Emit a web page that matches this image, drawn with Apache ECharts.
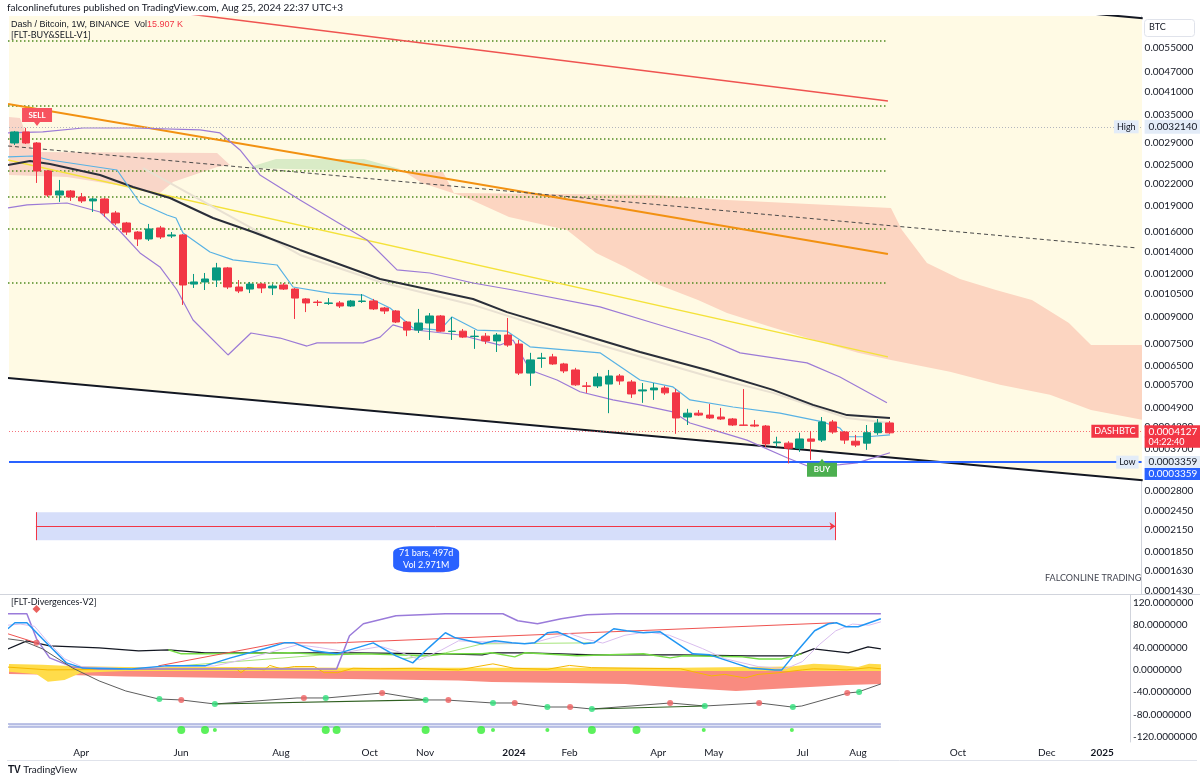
<!DOCTYPE html>
<html>
<head>
<meta charset="utf-8">
<title>Dash / Bitcoin 1W</title>
<script src="https://cdn.jsdelivr.net/npm/echarts@6/dist/echarts.min.js"></script>
<style>
  html, body { margin: 0; padding: 0; background: #ffffff; }
  #chart { width: 1200px; height: 782px; }
</style>
</head>
<body>
<div id="chart"></div>
<script>
// ---- values, prices in BTC ----
const firstWeek = '2023-02-20';
const weekCount = 101;

// bottom time axis labels
const monthTicks = [
  ['2023-04-03', 'Apr'], ['2023-06-05', 'Jun'], ['2023-08-07', 'Aug'], ['2023-10-02', 'Oct'],
  ['2023-11-06', 'Nov'], ['2024-01-01', '2024'], ['2024-02-05', 'Feb'], ['2024-04-01', 'Apr'],
  ['2024-05-06', 'May'], ['2024-07-01', 'Jul'], ['2024-08-05', 'Aug'], ['2024-10-07', 'Oct'],
  ['2024-12-02', 'Dec'], ['2025-01-06', '2025']
];

// right price scale (log)
const priceMin = 0.0001395, priceMax = 0.006821;
const priceTicks = [0.0055, 0.0047, 0.0041, 0.0035, 0.0029, 0.0025, 0.0022, 0.0019, 0.0016, 0.0014,
  0.0012, 0.00105, 0.0009, 0.00075, 0.00065, 0.00057, 0.00049, 0.00043, 0.00037, 0.00028,
  0.000245, 0.000215, 0.000185, 0.000163, 0.000143];
const oscTicks = [120, 80, 40, 0, -40, -80, -120];

const lastPrice = 0.0004127, highPrice = 0.003214, lowPrice = 0.0003359;

// weekly candles [open, close, low, high]
const candles = [
  [0.002902, 0.003126, 0.002863, 0.003147], [0.003126, 0.002902, 0.002882, 0.003214],
  [0.002902, 0.002404, 0.002218, 0.002921], [0.002404, 0.002045, 0.002018, 0.002420],
  [0.002045, 0.002101, 0.001952, 0.002263], [0.002101, 0.002018, 0.001965, 0.002115],
  [0.002018, 0.001965, 0.001938, 0.002073], [0.001965, 0.001991, 0.001824, 0.002004],
  [0.001991, 0.001812, 0.001764, 0.002004], [0.001812, 0.001694, 0.001672, 0.001837],
  [0.001694, 0.001594, 0.001563, 0.001706], [0.001594, 0.001521, 0.001451, 0.001605],
  [0.001521, 0.001627, 0.001501, 0.001683], [0.001638, 0.001542, 0.001521, 0.001661],
  [0.001552, 0.001563, 0.001531, 0.001594], [0.001563, 0.001116, 0.000976, 0.001573],
  [0.001123, 0.001139, 0.001094, 0.001202], [0.001139, 0.001162, 0.001079, 0.001210],
  [0.001154, 0.001252, 0.001101, 0.001295], [0.001252, 0.001101, 0.001086, 0.001260],
  [0.001101, 0.001072, 0.001057, 0.001154], [0.001086, 0.001123, 0.001057, 0.001139],
  [0.001123, 0.001094, 0.001057, 0.001131], [0.001094, 0.001108, 0.001043, 0.001123],
  [0.001116, 0.001086, 0.001079, 0.001131], [0.001086, 0.001022, 0.000888, 0.001094],
  [0.001016, 0.000989, 0.000930, 0.001022], [0.000995, 0.000992, 0.000969, 0.001009],
  [0.000986, 0.000989, 0.000976, 0.001022], [0.000989, 0.000969, 0.000956, 0.001002],
  [0.000969, 0.001002, 0.000963, 0.001009], [0.000999, 0.001002, 0.000989, 0.001050],
  [0.001002, 0.000950, 0.000943, 0.001016], [0.000956, 0.000937, 0.000918, 0.000963],
  [0.000937, 0.000870, 0.000864, 0.000943], [0.000870, 0.000824, 0.000791, 0.000876],
  [0.000824, 0.000864, 0.000808, 0.000950], [0.000864, 0.000906, 0.000771, 0.000924],
  [0.000906, 0.000818, 0.000813, 0.000912], [0.000816, 0.000818, 0.000771, 0.000900],
  [0.000818, 0.000786, 0.000781, 0.000830], [0.000789, 0.000791, 0.000726, 0.000824],
  [0.000791, 0.000766, 0.000750, 0.000808], [0.000766, 0.000797, 0.000711, 0.000808],
  [0.000797, 0.000745, 0.000736, 0.000894], [0.000750, 0.000617, 0.000609, 0.000771],
  [0.000617, 0.000674, 0.000566, 0.000707], [0.000681, 0.000683, 0.000639, 0.000707],
  [0.000688, 0.000656, 0.000652, 0.000702], [0.000656, 0.000626, 0.000617, 0.000661],
  [0.000630, 0.000570, 0.000566, 0.000639], [0.000566, 0.000564, 0.000540, 0.000581],
  [0.000566, 0.000601, 0.000558, 0.000617], [0.000573, 0.000605, 0.000471, 0.000630],
  [0.000605, 0.000585, 0.000570, 0.000613], [0.000581, 0.000536, 0.000522, 0.000589],
  [0.000547, 0.000551, 0.000505, 0.000577], [0.000551, 0.000558, 0.000515, 0.000577],
  [0.000558, 0.000540, 0.000533, 0.000566], [0.000540, 0.000456, 0.000410, 0.000554],
  [0.000459, 0.000471, 0.000435, 0.000485], [0.000471, 0.000465, 0.000462, 0.000481],
  [0.000465, 0.000456, 0.000453, 0.000501], [0.000459, 0.000453, 0.000450, 0.000488],
  [0.000453, 0.000435, 0.000432, 0.000456], [0.000435, 0.000434, 0.000432, 0.000554],
  [0.000435, 0.000432, 0.000429, 0.000450], [0.000432, 0.000383, 0.000375, 0.000435],
  [0.000386, 0.000388, 0.000375, 0.000402], [0.000385, 0.000372, 0.0003359, 0.000390],
  [0.000372, 0.000396, 0.000363, 0.000413], [0.000396, 0.000390, 0.000344, 0.000418],
  [0.000393, 0.000444, 0.000388, 0.000459], [0.000444, 0.000415, 0.000410, 0.000450],
  [0.000415, 0.000393, 0.000383, 0.000418], [0.000390, 0.000380, 0.000375, 0.000407],
  [0.000385, 0.000413, 0.000368, 0.000435], [0.000413, 0.000441, 0.000407, 0.000453],
  [0.000441, 0.0004127, 0.000410, 0.000447]
];

// indicator lines on the price pane: [bar index, price]
const maBlack = [[-0.59, 0.002502], [1.37, 0.002571], [3.16, 0.002519], [7.62, 0.002340], [10.56, 0.002159],
  [13.86, 0.002004], [17.69, 0.001752], [21.26, 0.001594], [25.45, 0.001413], [32.59, 0.001162],
  [40.88, 0.001016], [43.91, 0.000930], [52.2, 0.000771], [55.77, 0.000711], [61.74, 0.000630],
  [67.63, 0.000551], [71.2, 0.000498], [74.23, 0.000465], [78.06, 0.000456]];
const maBeige = [[11.46, 0.002452], [17.69, 0.001887], [21.26, 0.001627], [25.45, 0.001366], [32.59, 0.001139],
  [40.88, 0.000976], [52.2, 0.000745], [61.74, 0.000605], [67.63, 0.000540], [74.23, 0.000456], [78.06, 0.000441]];
const baseBlue = [[-0.59, 0.002642], [1.64, 0.002659], [3.16, 0.002588], [9.13, 0.002420], [11.18, 0.001938],
  [13.59, 0.001788], [14.39, 0.001752], [15.02, 0.001584], [17.42, 0.001394], [19.47, 0.001321],
  [23.4, 0.001277], [24.83, 0.001101], [28.13, 0.001057], [31.07, 0.001043], [33.48, 0.000956],
  [35.53, 0.000836], [37.93, 0.000824], [39.0, 0.000900], [41.24, 0.000824], [43.91, 0.000818],
  [45.07, 0.000771], [45.96, 0.000736], [52.2, 0.000707], [55.77, 0.000589], [58.71, 0.000562],
  [60.23, 0.000515], [64.06, 0.000491], [68.25, 0.000471], [72.09, 0.000444], [73.6, 0.000426],
  [74.23, 0.000402], [76.01, 0.000402], [78.06, 0.000407]];
const bandUpper = [[-0.59, 0.003105], [2.51, 0.003126], [6.10, 0.003210], [10.56, 0.003210], [16.53, 0.003168],
  [18.31, 0.003105], [20.1, 0.002769], [21.88, 0.002340], [25.45, 0.001978], [31.43, 0.001511],
  [34.1, 0.001235], [37.04, 0.001210], [40.88, 0.001131], [44.45, 0.001079], [52.2, 0.000963],
  [56.66, 0.000870], [62.01, 0.000771], [64.69, 0.000707], [70.66, 0.000661], [73.6, 0.000601],
  [77.79, 0.000505]];
const bandLower = [[-0.59, 0.001874], [1.11, 0.001913], [4.67, 0.001938], [7.62, 0.001824], [9.13, 0.001638],
  [11.18, 0.001385], [12.96, 0.001260], [14.48, 0.001079], [15.91, 0.000882], [19.03, 0.000697],
  [21.08, 0.000808], [23.67, 0.000781], [26.07, 0.000740], [26.97, 0.000756], [31.07, 0.000756],
  [32.59, 0.000786], [33.74, 0.000853], [34.99, 0.000830], [39.72, 0.000797], [43.29, 0.000745],
  [44.45, 0.000771], [45.96, 0.000630], [48.37, 0.000589], [50.42, 0.000544], [53.36, 0.000515],
  [55.77, 0.000498], [58.71, 0.000475], [60.23, 0.000441], [62.28, 0.000421], [65.31, 0.000393],
  [68.88, 0.000349], [70.93, 0.000328], [73.6, 0.000333], [75.12, 0.000337], [78.06, 0.000361]];

// drawings
const channelTop = [[-0.6, 0.01337], [100.6, 0.00672]];
const channelBottom = [[-0.6, 0.000597], [100.6, 0.000300]];
const redTrend = [[10.56, 0.007245], [77.88, 0.003849]];
const orangeTrend = [[-0.59, 0.003772], [77.88, 0.001374]];
const yellowTrend = [[-0.59, 0.002588], [77.88, 0.000688]];
const dashedTrend = [[-0.59, 0.002844], [100.09, 0.001432]];
const dottedLevels = [0.005765, 0.003722, 0.002981, 0.002403, 0.002019, 0.001627, 0.001131];

// ichimoku-like clouds
const cloudRedTop = [[34.63, 0.002404], [38.2, 0.002388], [39.18, 0.002073], [57.02, 0.002045], [63.53, 0.001978],
  [78.15, 0.001874], [79.13, 0.001616], [81.36, 0.001295], [84.3, 0.001162], [87.51, 0.001079],
  [90.72, 0.001009], [94.02, 0.000864], [95.99, 0.000745], [100.6, 0.000745]];
const cloudRedBottom = [[34.63, 0.002404], [36.33, 0.002218], [40.16, 0.002018], [44.09, 0.001764], [49.26, 0.001616],
  [51.85, 0.001385], [54.44, 0.001260], [57.02, 0.001131], [60.94, 0.001009], [63.53, 0.000924],
  [67.45, 0.000841], [71.29, 0.000771], [75.21, 0.000707], [78.15, 0.000674], [83.41, 0.000622],
  [87.87, 0.000570], [92.33, 0.000533], [95.99, 0.000481], [100.6, 0.000450]];
const cloudPinkTop = [[-0.6, 0.003457], [0.48, 0.003434], [1.64, 0.002732], [18.05, 0.002714], [19.21, 0.002502]];
const cloudPinkBottom = [[-0.6, 0.002340], [4.67, 0.002309], [9.13, 0.002188], [12.96, 0.002073], [14.13, 0.002233],
  [18.05, 0.002469], [19.21, 0.002502]];
const cloudGreenTop = [[20.72, 0.002452], [23.31, 0.002606], [31.16, 0.002606], [34.37, 0.002436]];
const cloudGreenBottom = [[20.72, 0.002452], [28.13, 0.002420], [34.37, 0.002436]];

// lower pane oscillator: [bar index, value]
const oscPurple = [[-0.6, 100.5], [1.11, 100.5], [1.98, 55.6], [3.16, 21.5], [5.21, 5.4], [7.62, 1.8], [29.02, 1.8],
  [30.18, 61.0], [31.43, 82.5], [34.37, 96.9], [38.82, 100.5], [44.0, 100.5], [45.34, 87.9], [47.12, 82.5],
  [49.26, 91.5], [51.58, 98.7], [54.26, 100.5], [78.06, 100.5]];
const oscBlue = [[-0.6, 73.6], [0.03, 84.3], [1.11, 84.3], [2.51, 55.6], [4.67, 12.6], [6.1, 3.6], [10.56, 1.8],
  [13.59, 7.2], [17.16, 7.2], [19.47, 21.5], [22.51, 37.7], [24.29, 48.4], [25.18, 48.4], [26.97, 34.1],
  [29.02, 28.7], [32.32, 48.4], [34.37, 25.1], [35.88, 12.6], [37.31, 39.5], [38.82, 66.4], [39.72, 57.4],
  [42.13, 46.6], [43.29, 52.0], [44.81, 48.4], [45.96, 46.6], [46.85, 48.4], [48.01, 66.4], [48.9, 68.2],
  [50.15, 57.4], [51.31, 46.6], [52.2, 48.4], [53.99, 73.6], [55.15, 70.0], [56.66, 66.4], [58.18, 68.2],
  [61.12, 28.7], [62.64, 26.9], [66.2, 3.6], [68.52, 0], [69.14, 0], [70.31, 28.7], [72.09, 70.0],
  [73.34, 82.5], [74.05, 84.3], [74.94, 77.1], [76.01, 77.1], [78.06, 91.5]];
const oscLilac = [[-0.6, 80], [0.5, 82], [1.8, 78], [3.0, 50], [4.5, 20], [6, 6], [10, 2], [14, 6], [18, 7],
  [20.5, 18], [23.5, 34], [25.5, 45], [27.5, 40], [30, 32], [33, 42], [35, 30], [36.5, 18], [38.5, 36],
  [40, 52], [42.5, 50], [44, 48], [46.5, 47], [48.5, 58], [50, 65], [51.5, 55], [53, 48], [55, 62], [57, 68],
  [59, 62], [62, 38], [64, 20], [67, 6], [69.5, 2], [71, 15], [72.5, 45], [74, 70], [75.5, 82], [77, 80], [78.06, 86]];
const oscRedLeft = [[-0.6, 64.6], [1.98, 48.4]];
const oscRedTrend = [[12.96, 7.2], [23.93, 48.4], [29.02, 48.4], [73.87, 84.3]];
const oscBlack = [[-0.6, 37.7], [1.11, 52.0], [3.16, 43.1], [7.62, 39.5], [11.18, 34.1], [13.86, 35.9], [17.16, 30.5],
  [24.83, 30.5], [30.8, 30.5], [38.82, 28.7], [42.13, 26.9], [43.02, 30.5], [46.23, 30.5], [52.2, 26.9],
  [60, 27], [66, 25], [70.31, 25.1], [72.0, 37.7], [75.12, 30.5], [76.9, 41.3], [78.06, 37.7]];
const oscGreen = [[13.86, 35.9], [15.02, 28.7], [17.16, 28.7], [24.83, 30.5], [28.39, 26.9], [31.43, 28.7],
  [37.31, 25.1], [38.82, 28.7], [42.13, 28.7], [43.02, 30.5], [45.07, 23.3], [45.96, 30.5], [50.69, 25.1],
  [56.66, 28.7], [59.07, 21.5], [60.23, 25.1], [65.58, 23.3], [67.09, 19.7], [69.14, 19.7], [70.93, 28.7]];
const oscLimeA = [[13.59, 5.4], [29.02, 28.7]];
const oscLimeB = [[34.99, 19.7], [38.82, 30.5], [42.13, 46.6], [51.93, 48.4]];
const oscYellowTop = [[-0.6, 10.8], [2.5, 9], [5, 7], [10, 5], [20, 5], [30, 4], [40, 4], [50, 4], [60, 4], [66, 5],
  [70, 6], [72, 11], [74, 9], [76, 5], [77, 10.8], [78.06, 10]];
const oscYellowBottom = [[-0.6, -3], [2, -8], [3, -21], [4.5, -18], [6, -5], [10, -2], [78.06, -2]];
const oscYellowLine = [[-0.6, 5], [3, 0], [10, 1], [20, 2], [20.4, -5], [21, 4], [22.5, 0], [23, 8], [24, 2],
  [25.2, 6], [27, 6], [27.9, -5], [29.1, -5], [30.5, 3], [33, 2], [36, 3], [40, 0], [43.1, 10.8], [45, 3],
  [48, 1], [50, 8], [52, 4], [56, 3], [60, 2], [62.8, -10.8], [64, -8], [65.8, -14.4], [67, -8], [68.7, -5.4],
  [71, 0], [72, 2], [75, 0], [77, 4], [78.06, 2]];
const oscSalmonTop = [[-0.6, -1], [20, -2], [40, -2], [60, -2], [78.06, -2]];
const oscSalmonBottom = [[-0.6, -7.2], [5, -9], [10, -12], [20, -14.4], [30, -16.1], [40, -19], [43, -21.5],
  [50, -23.3], [55, -25.1], [60, -32], [65, -37.7], [70, -32.3], [75, -27], [78.06, -25.1]];
const oscGray = [[-0.6, 55.6], [0.75, 52.0], [2.51, 37.7], [5.21, 3.6], [7.62, -19.7], [10.02, -37.7],
  [12.96, -52.0], [15.02, -53.8], [18.05, -61.0], [25.45, -50.2], [28.13, -50.2], [33.21, -41.3],
  [37.04, -53.8], [38.82, -53.8], [43.11, -59.2], [45.07, -59.2], [48.01, -66.4], [50.15, -66.4],
  [52.02, -70.0], [59.07, -59.2], [62.19, -64.6], [67.09, -59.2], [70.04, -66.4], [70.93, -64.6],
  [75.12, -41.3], [76.01, -39.5], [78.06, -25.1]];
const oscGreenDots = [[13.05, -52.0], [18.05, -61.0], [28.04, -50.2], [37.04, -53.8], [43.11, -59.2],
  [48.01, -66.4], [52.02, -70.0], [62.19, -64.6], [70.13, -66.4], [76.1, -39.5]];
const oscRedDots = [[15.02, -53.8], [26.07, -50.2], [33.12, -41.3], [39.09, -53.8], [45.07, -59.2],
  [50.06, -66.4], [59.07, -59.2], [67.09, -59.2], [75.03, -41.3], [1.98, 48.4]];
const oscDarkTrendA = [[18.05, -61.0], [37.04, -53.8]];
const oscDarkTrendB = [[52.02, -70.0], [62.19, -64.6]];
const oscFloorTop = [[-0.6, -96.9], [78.06, -96.9]];
const oscFloorBottom = [[-0.6, -102.3], [78.06, -102.3]];
const signalBig = [15.02, 17.16, 28.04, 29.02, 37.04, 42.04, 52.02, 56.04];
const signalSmall = [18.05, 43.11, 48.01, 62.1, 70.04];
const signalLevel = -107.6;

// ---- build ----
const lg = v => Math.log10(v);
const logPairs = arr => arr.map(p => [p[0], lg(p[1])]);

const weeks = [];
let t = Date.UTC(2023, 1, 20);
for (let i = 0; i < weekCount; i++) {
  weeks.push(new Date(t).toISOString().slice(0, 10));
  t += 7 * 864e5;
}
const tickMap = {};
monthTicks.forEach(m => { tickMap[m[0]] = m[1]; });

const FONT = 'Lato, "Noto Sans", sans-serif';
const NOLINE = 'rgba(0,0,0,0)';

function priceLine(pairs, color, width, type, z) {
  return {
    type: 'line', xAxisIndex: 1, yAxisIndex: 0, z: z, silent: true, symbol: 'none',
    data: logPairs(pairs), lineStyle: { color: color, width: width, type: type || 'solid' }
  };
}
function oscLine(pairs, color, width, z) {
  return {
    type: 'line', xAxisIndex: 3, yAxisIndex: 1, z: z, silent: true, symbol: 'none',
    data: pairs, lineStyle: { color: color, width: width }
  };
}
function band(upper, lower, color, lowerPane, z) {
  const conv = lowerPane ? (p => [p[0], p[1]]) : (p => [p[0], lg(p[1])]);
  const pts = upper.map(conv).concat(lower.map(conv).reverse());
  return {
    type: 'custom', xAxisIndex: lowerPane ? 3 : 1, yAxisIndex: lowerPane ? 1 : 0,
    z: z, silent: true, clip: true, data: [pts[0]],
    renderItem: function (params, api) {
      return { type: 'polygon', shape: { points: pts.map(p => api.coord(p)) }, style: { fill: color } };
    }
  };
}

const axisBoxBlue = '#e3ecf8';
const priceMarks = [
  { yAxis: lg(highPrice), lineStyle: { color: '#b2b5be', width: 1, type: [1, 2] },
    label: { position: 'end', distance: 3, formatter: '0.0032140', backgroundColor: axisBoxBlue,
      color: '#131722', padding: [2, 4], fontSize: 10 } },
  { yAxis: lg(highPrice), lineStyle: { color: NOLINE, width: 1 },
    label: { position: 'insideEnd', distance: 3, formatter: 'High', backgroundColor: axisBoxBlue,
      color: '#131722', padding: [2, 3], fontSize: 9 } },
  { yAxis: lg(lastPrice), lineStyle: { color: 'rgba(242,54,69,0.7)', width: 1, type: [1, 2] },
    label: { position: 'end', distance: 3, formatter: '{s| }\n{a|0.0004127}\n{b|04:22:40}',
      rich: {
        s: { height: 10, lineHeight: 10, fontSize: 8 },
        a: { backgroundColor: '#f23645', color: '#fff', width: 50, height: 12, lineHeight: 12, padding: [0, 4], fontSize: 10 },
        b: { backgroundColor: '#f23645', color: '#fff', width: 50, height: 10, lineHeight: 10, padding: [0, 4, 1, 4], fontSize: 9 }
      } } },
  { yAxis: lg(lastPrice), lineStyle: { color: NOLINE, width: 1 },
    label: { position: 'insideEnd', distance: 3, formatter: 'DASHBTC', backgroundColor: '#f23645',
      color: '#fff', padding: [2, 3], fontSize: 9 } },
  { yAxis: lg(lowPrice), lineStyle: { color: '#2962ff', width: 2, type: 'solid' },
    label: { position: 'end', distance: 3, formatter: '{s| }\n{a|0.0003359}\n{b|0.0003359}',
      rich: {
        s: { height: 12, lineHeight: 12, fontSize: 8 },
        a: { backgroundColor: axisBoxBlue, color: '#131722', width: 50, height: 12, lineHeight: 12, padding: [0, 4], fontSize: 10 },
        b: { backgroundColor: '#2962ff', color: '#fff', width: 50, height: 12, lineHeight: 12, padding: [0, 4], fontSize: 10 }
      } } },
  { yAxis: lg(lowPrice), lineStyle: { color: NOLINE, width: 1 },
    label: { position: 'insideEnd', distance: 3, formatter: 'Low', backgroundColor: axisBoxBlue,
      color: '#131722', padding: [2, 3], fontSize: 9 } }
];

const series = [];
// background channel + clouds
series.push(band(channelTop, channelBottom, '#fffae4', false, 1));
series.push(band(cloudPinkTop, cloudPinkBottom, '#f9d6c8', false, 1));
series.push(band(cloudGreenTop, cloudGreenBottom, '#d9ebc6', false, 1));
series.push(band(cloudRedTop, cloudRedBottom, '#fcd5c1', false, 1));

// measure tool
const measureTop = lg(0.0002419), measureBottom = lg(0.0002004), measureMid = lg(0.0002202);
series.push({
  type: 'line', xAxisIndex: 1, yAxisIndex: 0, z: 1, silent: true, symbol: 'none',
  data: [[1.9, measureMid], [73.2, measureMid]], lineStyle: { color: NOLINE },
  markArea: { silent: true, itemStyle: { color: '#d6defa' },
    data: [[{ coord: [1.9, measureTop] }, { coord: [73.2, measureBottom] }]] },
  markLine: { silent: true, symbol: ['none', 'none'], label: { show: false },
    lineStyle: { color: '#f23645', width: 1, type: 'solid' },
    data: [
      [{ coord: [1.9, measureTop] }, { coord: [1.9, measureBottom] }],
      [{ coord: [73.2, measureTop] }, { coord: [73.2, measureBottom] }],
      [{ coord: [1.9, measureMid] }, { coord: [73.2, measureMid], symbol: 'arrow', symbolSize: 6 }]
    ] },
  markPoint: { silent: true, data: [{
    coord: [36.7, lg(0.0001763)], symbol: 'roundRect', symbolSize: [66, 26], itemStyle: { color: '#2962ff' },
    label: { show: true, formatter: '71 bars, 497d\nVol 2.971M', color: '#fff', fontSize: 9, lineHeight: 12 } }] }
});

// channel lines and drawings
series.push(priceLine(channelTop, '#131722', 2, 'solid', 2));
series.push(priceLine(channelBottom, '#131722', 2, 'solid', 2));
dottedLevels.forEach(v => series.push(priceLine([[-0.59, v], [77.88, v]], '#4f8a1f', 1.5, [1.5, 2.5], 2)));
series.push(priceLine(redTrend, '#ef5350', 1.5, 'solid', 2));
series.push(priceLine(orangeTrend, '#f29111', 2, 'solid', 2));
series.push(priceLine(yellowTrend, '#f4e23a', 1.5, 'solid', 2));
series.push(priceLine(dashedTrend, '#4a4a4a', 1, [4, 3], 2));

// indicators
series.push(priceLine(maBeige, '#e9e1d2', 2, 'solid', 3));
series.push(priceLine(maBlack, '#2a2e39', 2, 'solid', 3));
series.push(priceLine(bandUpper, '#9c7ad6', 1.2, 'solid', 3));
series.push(priceLine(bandLower, '#9c7ad6', 1.2, 'solid', 3));
series.push(priceLine(baseBlue, '#58b2e4', 1.2, 'solid', 3));

// candles
series.push({
  type: 'candlestick', xAxisIndex: 0, yAxisIndex: 0, z: 5, barWidth: 8, silent: true,
  data: candles.map(c => c.map(lg)),
  itemStyle: { color: '#089981', color0: '#f23645', borderColor: '#089981', borderColor0: '#f23645', borderWidth: 1 },
  markLine: { silent: true, symbol: ['none', 'none'], label: { fontFamily: FONT }, data: priceMarks },
  markPoint: { silent: true, data: [
    { coord: [weeks[2], lg(0.003457)], symbol: 'path://M0 0H30V14H18L15 18L12 14H0Z', symbolSize: [30, 18],
      itemStyle: { color: '#f7525f' },
      label: { show: true, formatter: 'SELL', color: '#fff', fontSize: 8, fontWeight: 'bold', offset: [0, -2] } },
    { coord: [weeks[72], lg(0.000326)], symbol: 'path://M12 4L15 0L18 4H30V18H0V4Z', symbolSize: [30, 18],
      itemStyle: { color: '#4caf50' },
      label: { show: true, formatter: 'BUY', color: '#fff', fontSize: 8, fontWeight: 'bold', offset: [0, 2] } }
  ] }
});

// lower pane
series.push(band(oscFloorTop, oscFloorBottom, '#dfe3f5', true, 1));
series.push(oscLine(oscFloorTop, '#a9b1de', 1.5, 2));
series.push(oscLine(oscFloorBottom, '#a9b1de', 1.5, 2));
series.push(band(oscSalmonTop, oscSalmonBottom, '#f98b80', true, 1));
series.push(band(oscYellowTop, oscYellowBottom, '#ffdc4a', true, 1));
series.push(oscLine(oscYellowLine, '#f5b800', 1, 2));
series.push(oscLine(oscLimeA, '#a6e57c', 1, 2));
series.push(oscLine(oscLimeB, '#a6e57c', 1, 2));
series.push(oscLine(oscBlack, '#131722', 1.2, 2));
series.push(oscLine(oscGreen, '#74dc44', 1.5, 3));
series.push(oscLine(oscRedLeft, '#ef5350', 1, 3));
series.push(oscLine(oscRedTrend, '#ef5350', 1, 3));
series.push(oscLine(oscPurple, '#9a7bda', 1.5, 3));
series.push(oscLine(oscLilac, '#d9bdee', 1, 3));
series.push(oscLine(oscBlue, '#2196f3', 1.5, 3));
series.push(oscLine(oscGray, '#5d5d5d', 1, 3));
series.push(oscLine(oscDarkTrendA, '#2f5f20', 1.2, 3));
series.push(oscLine(oscDarkTrendB, '#2f5f20', 1.2, 3));
series.push({ type: 'scatter', xAxisIndex: 3, yAxisIndex: 1, z: 4, silent: true, symbolSize: 6,
  itemStyle: { color: '#2fe07a' }, data: oscGreenDots });
series.push({ type: 'scatter', xAxisIndex: 3, yAxisIndex: 1, z: 4, silent: true, symbolSize: 6,
  itemStyle: { color: '#ef6060' }, data: oscRedDots });
series.push({ type: 'scatter', xAxisIndex: 3, yAxisIndex: 1, z: 4, silent: true, symbolSize: 8,
  itemStyle: { color: '#33ee33' }, data: signalBig.map(x => [x, signalLevel]) });
series.push({ type: 'scatter', xAxisIndex: 3, yAxisIndex: 1, z: 4, silent: true, symbolSize: 4,
  itemStyle: { color: '#33ee33' }, data: signalSmall.map(x => [x, signalLevel]) });
series.push({ type: 'scatter', xAxisIndex: 3, yAxisIndex: 1, z: 4, silent: true, symbol: 'diamond', symbolSize: 8,
  itemStyle: { color: '#e53935' }, data: [[1.98, 109]] });

const chart = echarts.init(document.getElementById('chart'));
chart.setOption({
  animation: false,
  backgroundColor: '#ffffff',
  textStyle: { fontFamily: FONT },
  grid: [
    { left: 9, top: 16, width: 1132.6, height: 578 },
    { left: 9, top: 595, width: 1132.6, height: 147 }
  ],
  xAxis: [
    { type: 'category', gridIndex: 0, data: weeks, show: false },
    { type: 'value', gridIndex: 0, min: -0.5, max: weekCount - 0.5, show: false },
    { type: 'category', gridIndex: 1, data: weeks,
      axisLine: { show: false }, axisTick: { show: false }, splitLine: { show: false },
      axisLabel: {
        interval: (i, v) => tickMap[v] !== undefined,
        formatter: v => /^\d{4}$/.test(tickMap[v]) ? '{y|' + tickMap[v] + '}' : tickMap[v],
        color: '#131722', fontSize: 10, margin: 6, fontFamily: FONT,
        rich: { y: { fontWeight: 'bold', fontSize: 10, color: '#131722', fontFamily: FONT } }
      } },
    { type: 'value', gridIndex: 1, min: -0.5, max: weekCount - 0.5, show: false }
  ],
  yAxis: [
    { type: 'value', gridIndex: 0, position: 'right', min: lg(priceMin), max: lg(priceMax),
      splitLine: { show: false }, axisTick: { show: false },
      axisLine: { show: true, onZero: false, lineStyle: { color: '#d1d4dc' } },
      axisLabel: { customValues: priceTicks.map(lg), formatter: v => Math.pow(10, v).toFixed(7),
        color: '#131722', fontSize: 10, margin: 3, fontFamily: FONT } },
    { type: 'value', gridIndex: 1, position: 'right', min: -129, max: 134,
      splitLine: { show: false }, axisTick: { show: false },
      axisLine: { show: true, onZero: false, lineStyle: { color: '#d1d4dc' } },
      axisLabel: { customValues: oscTicks, formatter: v => v.toFixed(7),
        color: '#131722', fontSize: 10, margin: 3, fontFamily: FONT } }
  ],
  graphic: [
    { type: 'text', left: 7, top: 3, z: 10, style: { text: 'falconlinefutures published on TradingView.com, Aug 25, 2024 22:37 UTC+3',
      fill: '#131722', font: '10px ' + FONT } },
    { type: 'text', left: 11, top: 20, z: 10, style: { text: '{a|Dash / Bitcoin, 1W, BINANCE  Vol}{b|15.907 K}',
      font: '9px ' + FONT, rich: { a: { fill: '#131722', fontSize: 9 }, b: { fill: '#f23645', fontSize: 9 } } } },
    { type: 'text', left: 11, top: 31, z: 10, style: { text: '[FLT-BUY&SELL-V1]', fill: '#131722', font: '9px ' + FONT } },
    { type: 'text', left: 11, top: 598, z: 10, style: { text: '[FLT-Divergences-V2]', fill: '#131722', font: '9px ' + FONT } },
    { type: 'text', left: 1045, top: 574, z: 10, style: { text: 'FALCONLINE TRADING', fill: '#434651', font: '9px ' + FONT } },
    { type: 'rect', left: 1144, top: 19, z: 10, shape: { width: 50, height: 17, r: 3 },
      style: { fill: '#ffffff', stroke: '#e0e3eb', lineWidth: 1 } },
    { type: 'text', left: 1149, top: 23, z: 11, style: { text: 'BTC', fill: '#131722', font: '9px ' + FONT } },
    { type: 'line', z: 10, shape: { x1: 0, y1: 594.5, x2: 1200, y2: 594.5 }, style: { stroke: '#d1d4dc', lineWidth: 1 } },
    { type: 'line', z: 10, shape: { x1: 7, y1: 760.5, x2: 1197, y2: 760.5 }, style: { stroke: '#e0e3eb', lineWidth: 1 } },
    { type: 'text', left: 8, top: 765, z: 10, style: { text: '{t|TV} TradingView', font: '10px ' + FONT, fill: '#131722',
      rich: { t: { fontWeight: 'bold', fontSize: 10, fill: '#131722' } } } }
  ],
  series: series
});
</script>
</body>
</html>
